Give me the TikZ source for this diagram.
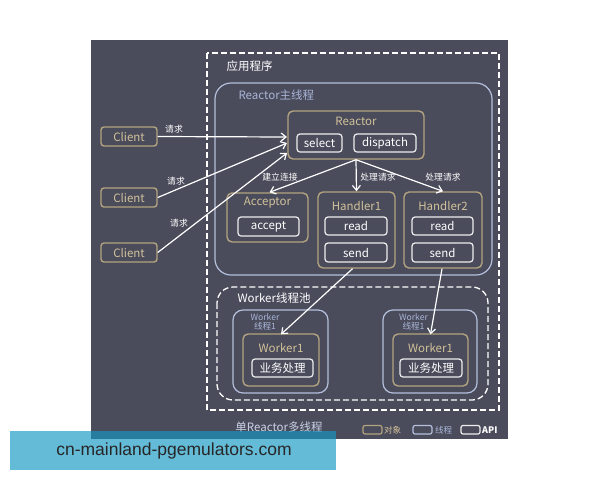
\documentclass[tikz,border=0pt]{standalone}
\usepackage{fontspec}
\setmainfont{Noto Sans CJK SC}
\newfontfamily\wmfont{Liberation Sans}
\usetikzlibrary{arrows.meta}
\definecolor{bgdark}{HTML}{4A4B5B}
\definecolor{tan}{HTML}{B3A47F}
\definecolor{tantext}{HTML}{D2C29A}
\definecolor{thread}{HTML}{B4C0DC}
\definecolor{threadtext}{HTML}{A9B6D8}
\definecolor{boxwhite}{HTML}{EEEEEE}
\definecolor{wmblue}{RGB}{20,152,197}
\tikzset{
  objbox/.style={draw=tan, line width=1.4pt, rounded corners=5pt, anchor=center, inner sep=0pt},
  apibox/.style={draw=boxwhite, line width=1.2pt, rounded corners=3pt, text=white, font=\fontsize{11.5}{12}\selectfont, inner sep=0pt, anchor=center},
  clientbox/.style={draw=tan, line width=1.4pt, rounded corners=3pt, text=tantext, font=\fontsize{11.5}{12}\selectfont, inner sep=0pt, minimum width=56pt, minimum height=19pt},
  thrbox/.style={draw=thread, line width=1.2pt},
  objtitle/.style={text=tantext, font=\fontsize{11.5}{12}\selectfont},
  lbl/.style={text=white, font=\fontsize{8.8}{9}\selectfont},
  arr/.style={draw=white, line width=1.2pt, -{Straight Barb[length=5pt,width=8pt]}},
}
\begin{document}
\begin{tikzpicture}[x=1pt,y=-1pt]
\useasboundingbox (0,0) rectangle (600,480);
\fill[white] (0,0) rectangle (600,480);
% background
\fill[bgdark] (91,40) rectangle (508,439);
% application dashed frame
\draw[white, line width=1.3pt, dash pattern=on 6pt off 3pt] (207,53) rectangle (499,410);
\node[anchor=west, text=white, font=\fontsize{11.5}{12}\selectfont] (app) at (223,66) {应用程序};
% Reactor main thread
\draw[thrbox, rounded corners=16pt] (215,83) rectangle (492,275);
\node[anchor=west, text=threadtext, font=\fontsize{11.5}{12}\selectfont] (mainlbl) at (235,95) {Reactor主线程};
% Reactor object
\node[objbox, minimum width=136pt, minimum height=48pt] (reactor) at (356,135) {};
\node[objtitle] (reactorT) at (356,121) {Reactor};
\node[apibox, minimum width=45pt, minimum height=18pt] (select) at (319.5,143) {select};
\node[apibox, minimum width=62pt, minimum height=18pt] (dispatch) at (385,143) {dispatch};
% Clients
\node[clientbox] (c1) at (129,136.5) {Client};
\node[clientbox] (c2) at (129,197.5) {Client};
\node[clientbox] (c3) at (129,252.5) {Client};
% Acceptor
\node[objbox, minimum width=81pt, minimum height=49pt] (acc) at (267.5,217.5) {};
\node[objtitle] (accT) at (267.5,203) {Acceptor};
\node[apibox, minimum width=61pt, minimum height=19pt] (accept) at (268.5,226.5) {accept};
% Handler1
\node[objbox, minimum width=77pt, minimum height=76pt] (h1) at (356.5,230) {};
\node[objtitle] (h1T) at (356.5,206) {Handler1};
\node[apibox, minimum width=62pt, minimum height=18pt] (h1r) at (356,226) {read};
\node[apibox, minimum width=62pt, minimum height=19pt] (h1s) at (356,252.5) {send};
% Handler2
\node[objbox, minimum width=78pt, minimum height=76pt] (h2) at (443,230) {};
\node[objtitle] (h2T) at (443,206) {Handler2};
\node[apibox, minimum width=61pt, minimum height=18pt] (h2r) at (442.5,226) {read};
\node[apibox, minimum width=61pt, minimum height=19pt] (h2s) at (442.5,252.5) {send};
% Worker pool
\draw[white, line width=1.3pt, dash pattern=on 6pt off 3pt, rounded corners=16pt] (217,287) rectangle (488,400);
\node[anchor=west, text=white, font=\fontsize{11.5}{12}\selectfont] (poollbl) at (234,298) {Worker线程池};
% worker threads
\draw[thrbox, rounded corners=10pt] (233,310) rectangle (328,393);
\node[text=threadtext, font=\fontsize{8.6}{9.5}\selectfont, align=center] (t1lbl) at (265,322) {Worker\\线程1};
\node[objbox, minimum width=76pt, minimum height=52pt] (w1) at (281,360) {};
\node[objtitle] (w1T) at (281,348) {Worker1};
\node[apibox, minimum width=61pt, minimum height=18pt] (b1) at (282.5,368) {业务处理};
\draw[thrbox, rounded corners=10pt] (383,310) rectangle (477,393);
\node[text=threadtext, font=\fontsize{8.6}{9.5}\selectfont, align=center] (t2lbl) at (413.5,322) {Worker\\线程1};
\node[objbox, minimum width=75pt, minimum height=52pt] (w2) at (430.5,360) {};
\node[objtitle] (w2T) at (430.5,348) {Worker1};
\node[apibox, minimum width=62pt, minimum height=18pt] (b2) at (431,368) {业务处理};
% arrows from clients
\coordinate (r1) at (287,137);
\coordinate (r2) at (287,143);
\coordinate (r3) at (287,153);
\draw[arr] (c1.east) -- (r1);
\draw[arr] (c2.east) -- (r2);
\draw[arr] (c3.east) -- (r3);
\node[lbl] (q1) at (174,129) {请求};
\node[lbl] (q2) at (176,181) {请求};
\node[lbl] (q3) at (179,223) {请求};
% dispatch arrows
\draw[arr] (reactor.south) -- ([xshift=2pt]acc.north);
\draw[arr] (reactor.south) -- (h1.north);
\draw[arr] (reactor.south) -- (h2.north);
\node[lbl] (lk) at (280,177) {建立连接};
\node[lbl] (p1) at (378,177) {处理请求};
\node[lbl] (p2) at (443,177) {处理请求};
% to workers
\draw[arr] ([xshift=-4pt]h1.south) -- ([yshift=-1pt]w1.north);
\draw[arr] ([xshift=-1pt]h2.south) -- ([yshift=-1pt]w2.north);
% footer
\node[text=threadtext!60!white, font=\fontsize{11.5}{12}\selectfont] (title) at (279,427) {单Reactor多线程};
\draw[tan, line width=1.2pt, rounded corners=2pt] (363,425.5) rectangle (382,434);
\node[anchor=west, text=tantext, font=\fontsize{8.5}{9}\selectfont, inner sep=1pt] (lg1) at (383,430) {对象};
\draw[thread, line width=1.2pt, rounded corners=2pt] (413,425.5) rectangle (432,434);
\node[anchor=west, text=threadtext, font=\fontsize{8.5}{9}\selectfont, inner sep=1pt] (lg2) at (434,430) {线程};
\draw[boxwhite, line width=1.2pt, rounded corners=2pt] (461,425.5) rectangle (480,434);
\node[anchor=west, text=white, font=\bfseries\fontsize{9}{10}\selectfont, inner sep=1pt] (lg3) at (481,430) {API};
% watermark
\fill[wmblue, opacity=0.66] (10,431) rectangle (336,470);
\node[text=black!85, font=\wmfont\fontsize{17.5}{19}\selectfont] (wm) at (174,451) {cn-mainland-pgemulators.com};
\end{tikzpicture}
\end{document}
